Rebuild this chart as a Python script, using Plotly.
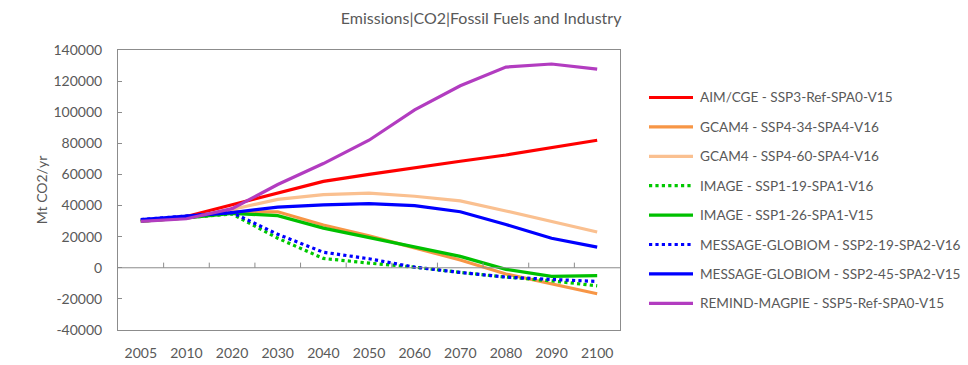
import plotly.graph_objects as go

# Years shown as evenly spaced categories
years = ["2005", "2010", "2020", "2030", "2040", "2050", "2060", "2070", "2080", "2090", "2100"]

# Emissions (Mt CO2/yr) by model / scenario
aim_ssp3_ref = [30000, 33000, 40500, 48000, 55500, 60000, 64500, 68500, 72500, 77000, 82000]
gcam4_ssp4_34 = [30000, 32000, 36000, 36000, 27500, 20500, 12800, 5000, -4000, -10300, -16700]
gcam4_ssp4_60 = [30000, 32000, 37500, 44000, 47000, 48000, 46000, 43000, 36500, 29800, 23000]
image_ssp1_19 = [30000, 32000, 34500, 19000, 6000, 3000, 400, -3000, -6000, -8400, -11600]
image_ssp1_26 = [30000, 32000, 35000, 33500, 25500, 19500, 13500, 7300, -1000, -5500, -5100]
message_ssp2_19 = [31000, 33000, 35500, 21500, 10000, 5800, 400, -3000, -6000, -7500, -8800]
message_ssp2_45 = [31000, 33000, 35500, 39000, 40500, 41300, 40000, 36000, 27800, 19000, 13300]
remind_ssp5_ref = [29800, 31500, 38000, 53500, 67000, 82000, 101500, 117000, 129000, 131000, 127700]

series = [
    ("AIM/CGE - SSP3-Ref-SPA0-V15", aim_ssp3_ref, "#FF0000", "solid"),
    ("GCAM4 - SSP4-34-SPA4-V16", gcam4_ssp4_34, "#F79646", "solid"),
    ("GCAM4 - SSP4-60-SPA4-V16", gcam4_ssp4_60, "#FAC090", "solid"),
    ("IMAGE - SSP1-19-SPA1-V16", image_ssp1_19, "#00C800", "dot"),
    ("IMAGE - SSP1-26-SPA1-V15", image_ssp1_26, "#00C000", "solid"),
    ("MESSAGE-GLOBIOM - SSP2-19-SPA2-V16", message_ssp2_19, "#0000FF", "dot"),
    ("MESSAGE-GLOBIOM - SSP2-45-SPA2-V15", message_ssp2_45, "#0000FF", "solid"),
    ("REMIND-MAGPIE - SSP5-Ref-SPA0-V15", remind_ssp5_ref, "#B23CC0", "solid"),
]

y_ticks = list(range(-40000, 140001, 20000))

FONT = "Lato, 'Open Sans', sans-serif"
GREY = "#595959"
AXIS = "#8C8C8C"
LINE_W = 3.2

# Figure geometry (pixels)
W, H = 968, 365
ML, MR, MT, MB = 118, 348, 50, 35
PW, PH = W - ML - MR, H - MT - MB

fig = go.Figure()
for name, values, color, dash in series:
    fig.add_trace(go.Scatter(
        x=years, y=values, name=name, mode="lines",
        line=dict(color=color, width=LINE_W, dash=dash),
        showlegend=False,
    ))

# Horizontal axis line at zero with small upward ticks between categories
shapes = [dict(type="line", xref="paper", yref="y", x0=0, x1=1, y0=0, y1=0,
               line=dict(color=AXIS, width=1))]
for i in range(len(years) - 1):
    shapes.append(dict(type="line", xref="x", yref="y", x0=i + 0.5, x1=i + 0.5,
                       y0=0, y1=3300, line=dict(color=AXIS, width=1)))

# Legend to the right of the plot: a line sample and a label per series
annotations = []
leg_x0, leg_x1, leg_text = 649, 693, 698
leg_top, leg_step = 97.5, 29.4


def px_x(p):
    return (p - ML) / PW


def px_y(p):
    return (H - MB - p) / PH


for k, (name, values, color, dash) in enumerate(series):
    yy = px_y(leg_top + k * leg_step)
    shapes.append(dict(type="line", xref="paper", yref="paper",
                       x0=px_x(leg_x0), x1=px_x(leg_x1), y0=yy, y1=yy,
                       line=dict(color=color, width=LINE_W, dash=dash)))
    annotations.append(dict(xref="paper", yref="paper", x=px_x(leg_text), y=yy,
                            xanchor="left", yanchor="middle", showarrow=False,
                            text=name, font=dict(size=13.6, color=GREY, family=FONT)))

fig.update_layout(
    width=W, height=H,
    margin=dict(l=ML, r=MR, t=MT, b=MB, autoexpand=False),
    paper_bgcolor="white", plot_bgcolor="white",
    font=dict(family=FONT, color=GREY, size=14),
    title=dict(text="Emissions|CO2|Fossil Fuels and Industry", x=0.497, xanchor="center",
               y=0.95, yanchor="middle", font=dict(size=16, color=GREY, family=FONT)),
    shapes=shapes,
    annotations=annotations,
    showlegend=False,
)
fig.update_xaxes(
    type="category", categoryorder="array", categoryarray=years,
    range=[-0.5, len(years) - 0.5], automargin=False,
    showgrid=False, zeroline=False, ticks="", showline=True, linecolor=AXIS,
    linewidth=1, mirror=True, tickfont=dict(size=14, color=GREY), ticklabelstandoff=10,
)
fig.update_yaxes(
    range=[-40000, 140000], tickvals=y_ticks, ticktext=[str(v) for v in y_ticks],
    automargin=False,
    showgrid=False, zeroline=False, ticks="inside", ticklen=4, tickcolor=AXIS,
    showline=True, linecolor=AXIS, linewidth=1, mirror=True,
    tickfont=dict(size=14, color=GREY), ticklabelstandoff=12,
    title=dict(text="Mt CO2/yr", font=dict(size=14, color=GREY), standoff=2),
)

fig.write_html("out.html")
